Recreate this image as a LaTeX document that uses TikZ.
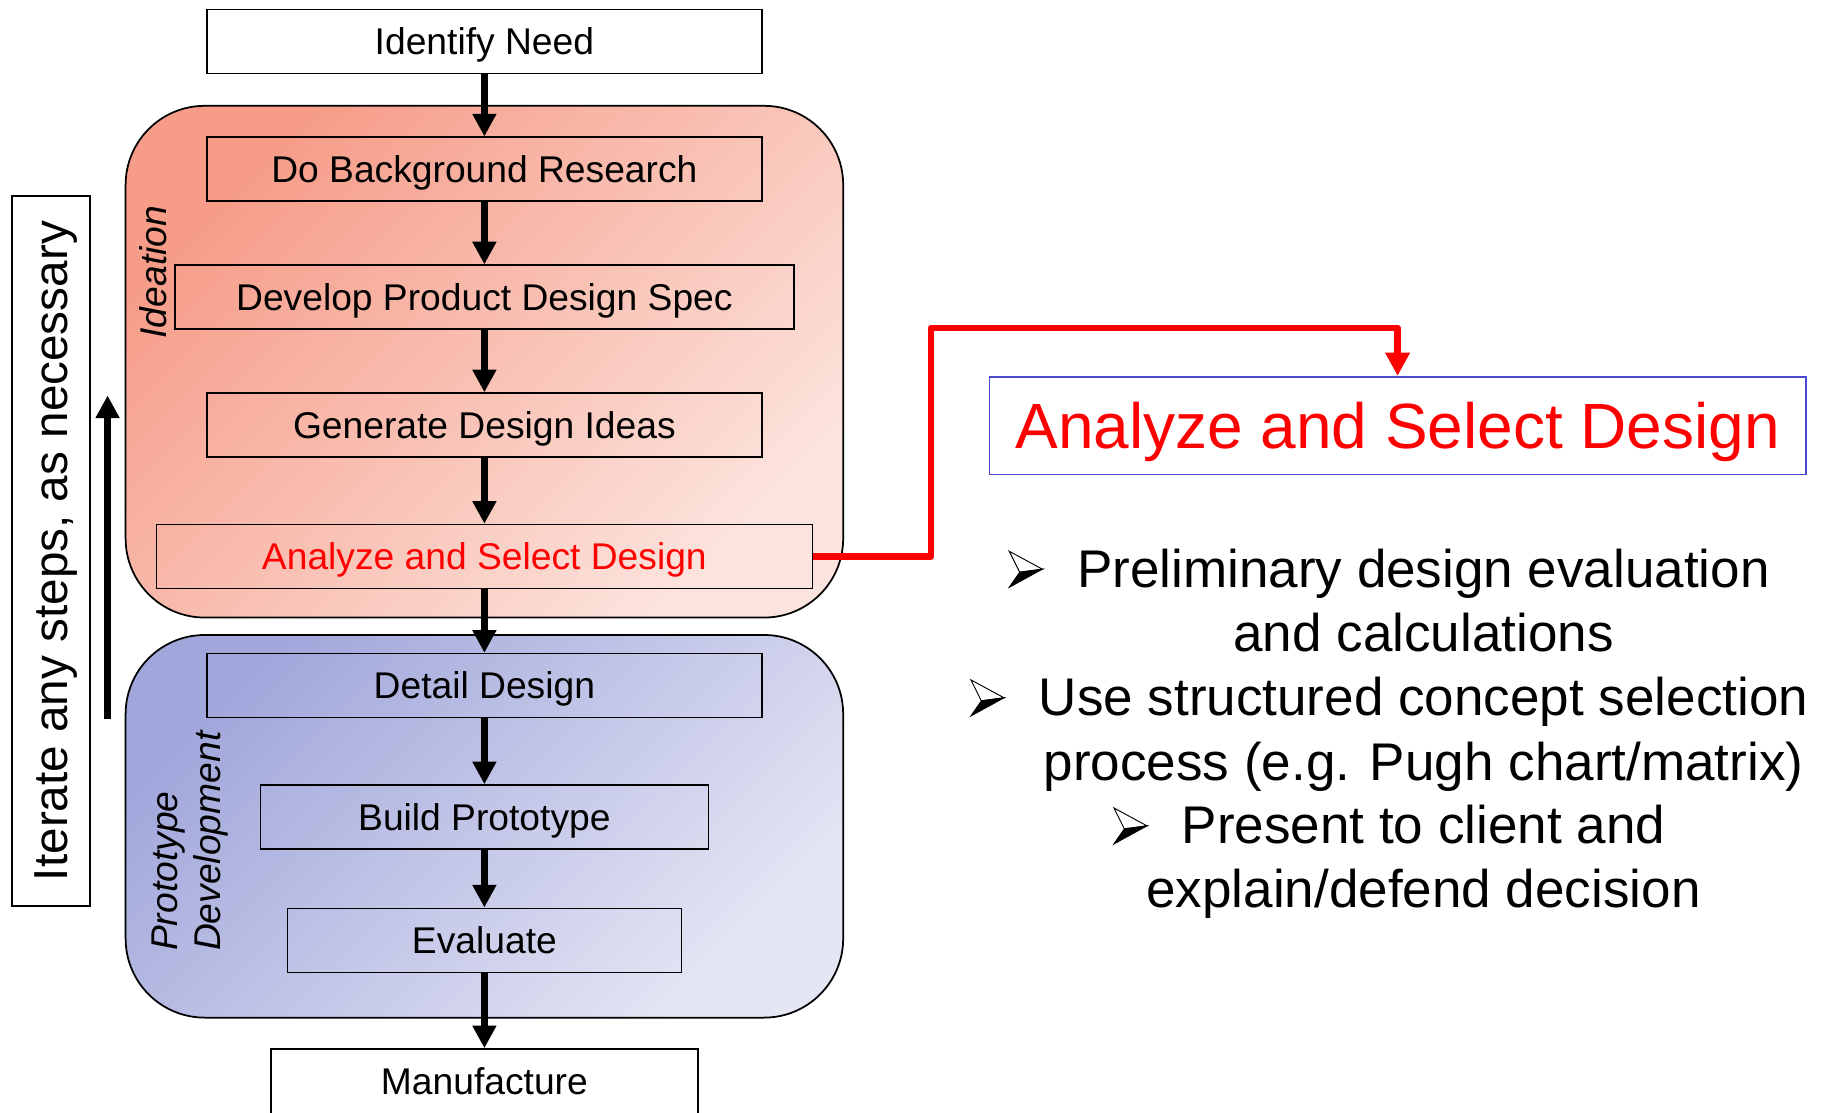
\documentclass[tikz,border=0pt]{standalone}
\usepackage{fontspec}
\setmainfont{Liberation Sans}
\usetikzlibrary{arrows.meta}
\definecolor{ideaA}{HTML}{F69C88}
\definecolor{ideaB}{HTML}{FCE4DE}
\definecolor{protoA}{HTML}{A1A7DB}
\definecolor{protoB}{HTML}{E5E6F4}
\definecolor{titleblue}{HTML}{4A4ACF}
\begin{document}
\begin{tikzpicture}[x=0.5pt,y=-0.5pt,
  stepbox/.style={draw=black, line width=0.65pt, minimum height=27.5pt, inner sep=0pt,
    font=\fontsize{16}{19}\selectfont, text height=11.46pt, text depth=0pt},
  flow/.style={line width=3.15pt, -{Triangle[width=9.75pt,length=9.75pt]}},
  redflow/.style={draw=red, line width=2.9pt, line join=round, -{Triangle[width=10pt,length=10pt]}},
  phase/.style={draw=black, line width=0.75pt, rounded corners=34pt, minimum width=308.5pt,
    inner sep=0pt},
  phaselabel/.style={rotate=90, inner sep=0pt, font=\itshape\fontsize{16}{19}\selectfont},
  btext/.style={inner sep=0pt, anchor=base, font=\fontsize{22.8}{27.5}\selectfont},
  arrowbullet/.pic={
    \filldraw[fill=white, draw=black, line width=0.4pt] (-58,-31) -- (-29.5,-15.6) -- (-49,-13) -- cycle;
    \filldraw[draw=black, fill=black, line width=0.4pt] (-49,-13) -- (-29.5,-15.6) -- (-58,0) -- cycle;
  }
]
\useasboundingbox (0,0) rectangle (1567.5,956.2);

% phases
\node[phase, top color=ideaA, bottom color=ideaB, shading angle=45, minimum height=220pt] (ideation) at (416.5,311) {};
\node[phase, top color=protoA, bottom color=protoB, shading angle=45, minimum height=164.5pt] (proto) at (416.5,710.5) {};

% phase labels
\node[phaselabel, text height=11.46pt, text depth=0pt] (idlabel) at (131.5,234) {Ideation};
\node[phaselabel, anchor=base west] (protolabel) at (153,818) {Prototype};
\node[phaselabel, anchor=base west] (devlabel) at (190,818) {Development};

% steps
\node[stepbox, minimum width=238.5pt] (need) at (416.5,35.5) {Identify Need};
\node[stepbox, minimum width=238.5pt] (research) at (416.5,145.5) {Do Background Research};
\node[stepbox, minimum width=266pt] (spec) at (416.5,255.5) {Develop Product Design Spec};
\node[stepbox, minimum width=238.5pt] (ideas) at (416.5,365.5) {Generate Design Ideas};
\node[stepbox, minimum width=282pt, text=red] (analyze) at (416.5,478.5) {Analyze and Select Design};
\node[stepbox, minimum width=238.5pt] (detail) at (416.5,589.5) {Detail Design};
\node[stepbox, minimum width=192.5pt] (build) at (416.5,702.5) {Build Prototype};
\node[stepbox, minimum width=169.5pt] (evaluate) at (416.5,808.5) {Evaluate};
\node[stepbox, minimum width=183.5pt, minimum height=28pt] (manufacture) at (416.5,930) {Manufacture};

\draw[flow] (need) -- (research);
\draw[flow] (research) -- (spec);
\draw[flow] (spec) -- (ideas);
\draw[flow] (ideas) -- (analyze);
\draw[flow] (analyze) -- (detail);
\draw[flow] (detail) -- (build);
\draw[flow] (build) -- (evaluate);
\draw[flow] (evaluate) -- (manufacture);

% iterate
\node[draw=black, line width=0.75pt, rotate=90, minimum width=305.5pt, minimum height=33.7pt,
  inner sep=0pt, font=\fontsize{20.5}{24}\selectfont, text height=14.68pt, text depth=0pt]
  (iter) at (43.7,473.8) {Iterate any steps, as necessary};
\coordinate (upS) at (92.5,618);
\coordinate (upE) at (92.5,340);
\draw[flow] (upS) -- (upE);

% title
\node[draw=titleblue, line width=0.75pt, minimum width=350.9pt, minimum height=42pt, inner sep=0pt,
  text=red, font=\fontsize{27.5}{33}\selectfont, text height=19.7pt, text depth=0pt]
  (title) at (1201.7,366) {Analyze and Select Design};
\coordinate (rc) at (800.5,282);
\draw[redflow] (analyze.east) -| (rc) -| (title.north);

% bullets
\node[btext] (l1) at (1224,505) {Preliminary design evaluation};
\node[btext] (l2) at (1224,560) {and calculations};
\node[btext] (l3) at (1224,615.6) {Use structured concept selection};
\node[btext] (l4) at (1224,670.7) {process (e.g. Pugh chart/matrix)};
\node[btext] (l5) at (1224,725.7) {Present to client and};
\node[btext] (l6) at (1224,780.7) {explain/defend decision};
\pic at (l1.base west) {arrowbullet};
\pic at (l3.base west) {arrowbullet};
\pic at (l5.base west) {arrowbullet};
\end{tikzpicture}
\end{document}
